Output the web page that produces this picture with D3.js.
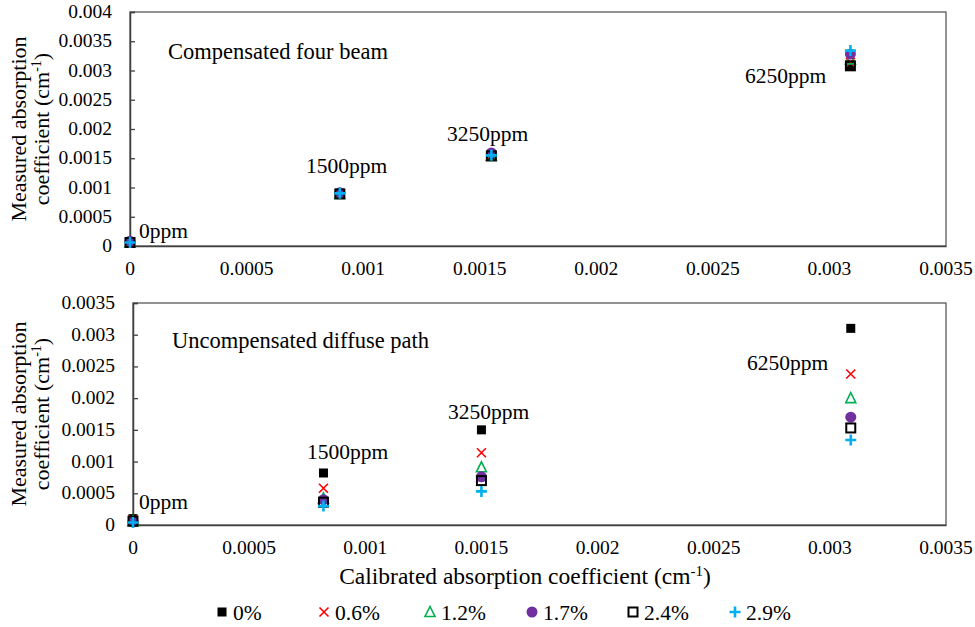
<!DOCTYPE html>
<html>
<head>
<meta charset="utf-8">
<script src="https://cdn.jsdelivr.net/npm/d3@7"></script>
<style>
  body { margin: 0; background: #fff; }
  svg text { font-family: "Liberation Serif", "Times New Roman", serif; }
</style>
</head>
<body>
<div id="chart"></div>
<script>
// series (water vapour content)
const series = ["0%", "0.6%", "1.2%", "1.7%", "2.4%", "2.9%"];
const concentrations = ["0ppm", "1500ppm", "3250ppm", "6250ppm"];
const xTicks = [0, 0.0005, 0.001, 0.0015, 0.002, 0.0025, 0.003, 0.0035];

// top panel: compensated four beam
const topX = [0, 0.0009, 0.00155, 0.00309];
const topY = [
    [0.00006, 0.00089, 0.00154, 0.00307],
    [0.00007, 0.0009, 0.00156, 0.00314],
    [0.00006, 0.00089, 0.00154, 0.00319],
    [0.00008, 0.00091, 0.00159, 0.00328],
    [0.00006, 0.00089, 0.00154, 0.00308],
    [0.00006, 0.0009, 0.00155, 0.00334],
];
const topYTicks = [0, 0.0005, 0.001, 0.0015, 0.002, 0.0025, 0.003, 0.0035, 0.004];

// bottom panel: uncompensated diffuse path
const botX = [0, 0.00082, 0.0015, 0.00309];
const botY = [
    [0.0001, 0.00082, 0.0015, 0.0031],
    [0.00008, 0.00058, 0.00114, 0.00238],
    [0.00006, 0.00042, 0.00091, 0.002],
    [0.00005, 0.0004, 0.00076, 0.0017],
    [0.00006, 0.00036, 0.0007, 0.00153],
    [0.00004, 0.0003, 0.00053, 0.00134],
];
const botYTicks = [0, 0.0005, 0.001, 0.0015, 0.002, 0.0025, 0.003, 0.0035];

const colors = ["#000000", "#ff0000", "#00b050", "#7030a0", "#000000", "#00b0f0"];
const serif = "Liberation Serif, Times New Roman, serif";

const width = 975, height = 627;
const svg = d3.select("#chart").append("svg")
    .attr("width", width)
    .attr("height", height)
    .attr("font-family", serif);

const fmt = (d) => String(+d.toFixed(4));

// marker drawing, centred on (0,0)
function drawMarker(g, i, c) {
    if (i === 0) {
        g.append("rect").attr("x", -4.5).attr("y", -4.5).attr("width", 9).attr("height", 9).attr("fill", c);
    } else if (i === 1) {
        g.append("path").attr("d", "M-4.5,-4.5L4.5,4.5M-4.5,4.5L4.5,-4.5")
            .attr("stroke", c).attr("stroke-width", 1.6).attr("fill", "none");
    } else if (i === 2) {
        g.append("path").attr("d", "M0,-5.5L5,4.5L-5,4.5Z")
            .attr("stroke", c).attr("stroke-width", 1.6).attr("fill", "none");
    } else if (i === 3) {
        g.append("circle").attr("r", 5.5).attr("fill", c);
    } else if (i === 4) {
        g.append("rect").attr("x", -4.5).attr("y", -4.5).attr("width", 9).attr("height", 9)
            .attr("fill", "none").attr("stroke", c).attr("stroke-width", 2);
    } else {
        g.append("path").attr("d", "M-5.5,0L5.5,0M0,-5.5L0,5.5")
            .attr("stroke", c).attr("stroke-width", 2.6).attr("fill", "none");
    }
}

function addText(parent, size) {
    return parent.append("text").attr("font-family", serif).attr("font-size", size).attr("fill", "#000");
}

function panel({ left, right, top, bottom, yMax, yTicks, xs, ys, title, titlePos, labels }) {
    const x = d3.scaleLinear().domain([0, 0.0035]).range([left, right]);
    const y = d3.scaleLinear().domain([0, yMax]).range([bottom, top]);
    const g = svg.append("g");

    // plot area frame
    g.append("rect")
        .attr("x", left).attr("y", top)
        .attr("width", right - left).attr("height", bottom - top)
        .attr("fill", "none").attr("stroke", "#595959").attr("stroke-width", 1.3);

    const yAxis = g.append("g")
        .attr("transform", `translate(${left},0)`)
        .call(d3.axisRight(y).tickValues(yTicks).tickSize(5).tickFormat(""));
    yAxis.select(".domain").attr("stroke", "#404040").attr("stroke-width", 1.5);
    yAxis.selectAll(".tick line").attr("stroke", "#404040").attr("stroke-width", 1.3);

    yTicks.forEach((d) => {
        addText(g, 19.5).attr("x", left - 18).attr("y", y(d) + 6)
            .attr("text-anchor", "end").text(fmt(d));
    });

    const xAxis = g.append("g")
        .attr("transform", `translate(0,${bottom})`)
        .call(d3.axisBottom(x).tickValues(xTicks).tickSize(0).tickFormat(""));
    xAxis.select(".domain").attr("stroke", "#404040").attr("stroke-width", 1.5);

    xTicks.forEach((d) => {
        addText(g, 19.5).attr("x", x(d)).attr("y", bottom + 29)
            .attr("text-anchor", "middle").text(fmt(d));
    });

    series.forEach((s, i) => {
        ys[i].forEach((v, j) => {
            const m = g.append("g").attr("transform", `translate(${x(xs[j])},${y(v)})`);
            drawMarker(m, i, colors[i]);
        });
    });

    addText(g, 22.5).attr("x", titlePos[0]).attr("y", titlePos[1]).text(title);

    concentrations.forEach((c, j) => {
        addText(g, 21.5).attr("x", labels[j][0]).attr("y", labels[j][1]).text(c);
    });

    // y axis title
    const yt = addText(g, 22)
        .attr("transform", `translate(26,${(top + bottom) / 2}) rotate(-90)`)
        .attr("text-anchor", "middle");
    yt.append("tspan").attr("x", 0).attr("dy", 0).text("Measured absorption");
    yt.append("tspan").attr("x", 0).attr("dy", 23).text("coefficient (cm");
    yt.append("tspan").attr("dy", -8).attr("font-size", 14).text("-1");
    yt.append("tspan").attr("dy", 8).text(")");
}

panel({
    left: 130, right: 946, top: 12, bottom: 246,
    yMax: 0.004, yTicks: topYTicks, xs: topX, ys: topY,
    title: "Compensated four beam", titlePos: [168, 59],
    labels: [[139, 238], [306, 173], [447, 141], [745, 83]],
});

panel({
    left: 133, right: 946, top: 303, bottom: 525,
    yMax: 0.0035, yTicks: botYTicks, xs: botX, ys: botY,
    title: "Uncompensated diffuse path", titlePos: [172, 348],
    labels: [[139, 509], [307, 459], [448, 419], [747, 370]],
});

// x axis title
const xt = addText(svg, 23.5)
    .attr("x", 525).attr("y", 584)
    .attr("text-anchor", "middle");
xt.append("tspan").text("Calibrated absorption coefficient (cm");
xt.append("tspan").attr("dy", -8).attr("font-size", 15).text("-1");
xt.append("tspan").attr("dy", 8).text(")");

// legend
const legendX = [222, 324, 430, 532, 633, 735];
series.forEach((s, i) => {
    const m = svg.append("g").attr("transform", `translate(${legendX[i]},612)`);
    drawMarker(m, i, colors[i]);
    addText(svg, 21.5).attr("x", legendX[i] + 11).attr("y", 620).text(s);
});
</script>
</body>
</html>
